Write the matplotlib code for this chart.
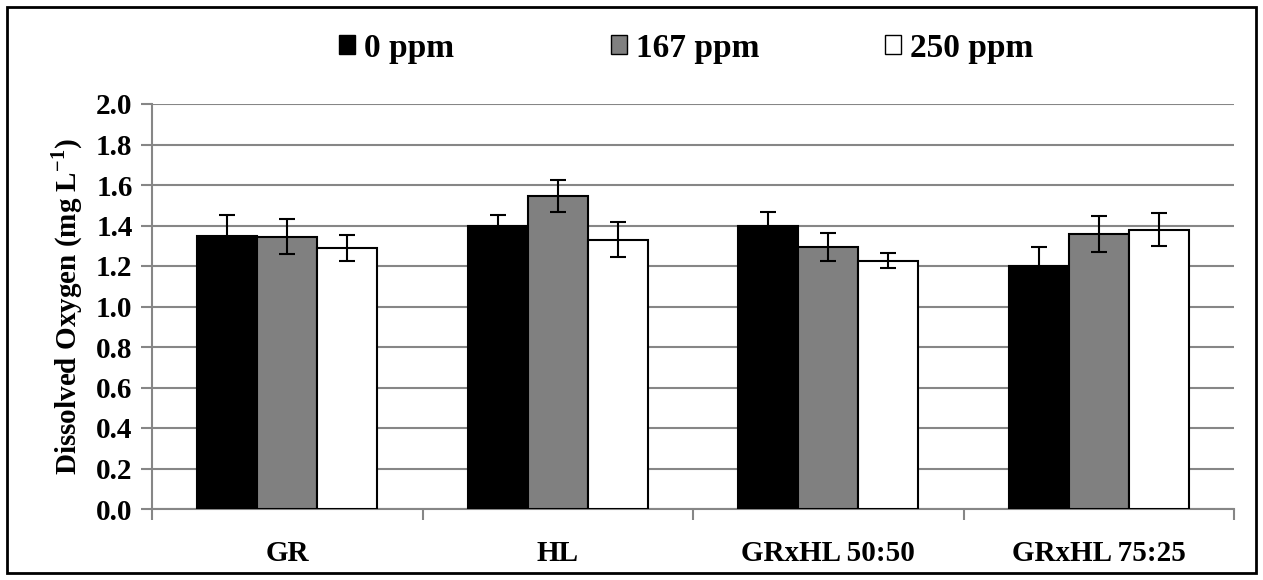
import numpy as np
import matplotlib.pyplot as plt
from matplotlib.patches import Rectangle, Patch

plt.rcParams['font.family'] = 'Liberation Serif'
plt.rcParams['font.weight'] = 'bold'
plt.rcParams['axes.labelweight'] = 'bold'
plt.rcParams['mathtext.fontset'] = 'custom'
plt.rcParams['mathtext.rm'] = 'Liberation Serif:bold'
plt.rcParams['mathtext.bf'] = 'Liberation Serif:bold'

categories = ['GR', 'HL', 'GRxHL 50:50', 'GRxHL 75:25']
series_names = ['0 ppm', '167 ppm', '250 ppm']
vals_0 = [1.35, 1.40, 1.40, 1.20]
vals_167 = [1.345, 1.545, 1.295, 1.357]
vals_250 = [1.29, 1.33, 1.225, 1.38]
err_0 = [0.10, 0.053, 0.065, 0.096]
err_167 = [0.087, 0.08, 0.069, 0.09]
err_250 = [0.065, 0.087, 0.037, 0.083]
yticks = [0.0, 0.2, 0.4, 0.6, 0.8, 1.0, 1.2, 1.4, 1.6, 1.8, 2.0]

grid_c = '#868686'
colors = ['#000000', '#808080', '#ffffff']

fig = plt.figure(figsize=(12.63, 5.8), dpi=100)
ax = fig.add_axes([152/1263, 1-509/580, (1234-152)/1263, (509-104)/580])

x = np.arange(len(categories))
w = 0.222
all_vals = [vals_0, vals_167, vals_250]
all_err = [err_0, err_167, err_250]
for i in range(3):
    ax.bar(x + (i-1)*w, all_vals[i], w, color=colors[i], edgecolor='black',
           linewidth=1.5, label=series_names[i], zorder=3)
    ax.errorbar(x + (i-1)*w, all_vals[i], yerr=all_err[i], fmt='none',
                ecolor='black', elinewidth=1.5, capsize=6, capthick=1.5, zorder=4)

ax.set_xlim(-0.5, 3.5)
ax.set_ylim(0, 2.0)
ax.set_yticks(yticks)
ax.set_yticklabels(['%.1f' % t for t in yticks])
ax.yaxis.grid(True, color=grid_c, linewidth=1.5, zorder=0)
ax.set_axisbelow(True)

ax.set_xticks(x)
ax.set_xticklabels(categories)
ax.set_xticks(np.arange(-0.5, 4, 1), minor=True)
ax.tick_params(axis='x', which='major', length=0, pad=22, labelsize=21)
ax.tick_params(axis='x', which='minor', length=8, width=1.5, color=grid_c, direction='out')
ax.tick_params(axis='y', length=8, width=1.5, color=grid_c, direction='out', labelsize=21, pad=6)

for s in ['top', 'right']:
    ax.spines[s].set_visible(False)
for s in ['left', 'bottom']:
    ax.spines[s].set_color(grid_c)
    ax.spines[s].set_linewidth(1.5)

ax.set_ylabel(r'Dissolved Oxygen (mg L$^{\mathbf{-1}}$)', fontsize=21, labelpad=8)

# legend entries placed one by one, like the spread-out Excel legend
leg_x = [332, 604, 878]
for i in range(3):
    h = Patch(facecolor=colors[i], edgecolor='black', linewidth=1.0)
    lg = fig.legend([h], [series_names[i]], loc='center left',
                    bbox_to_anchor=(leg_x[i]/1263, 1-48/580), frameon=False,
                    fontsize=24, handlelength=0.5, handleheight=0.5,
                    handletextpad=0.25, borderaxespad=0, borderpad=0.2)

fig.patches.append(Rectangle((7/1263, 7/580), 1249/1263, 566/580, transform=fig.transFigure,
                             fill=False, edgecolor='black', linewidth=2))

plt.savefig('out.png', dpi=100)
